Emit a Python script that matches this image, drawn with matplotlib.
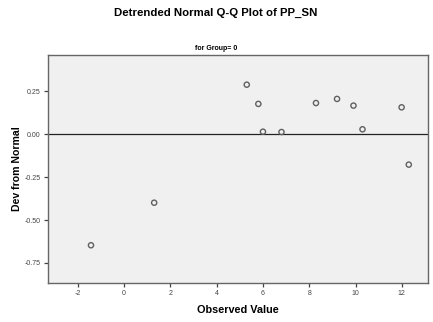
import matplotlib
matplotlib.use("Agg")
import matplotlib.pyplot as plt

observed = [-1.43, 1.30, 5.30, 5.80, 6.00, 6.80, 8.29, 9.20, 9.91, 10.30, 11.99, 12.30]
dev = [-0.647, -0.399, 0.289, 0.177, 0.015, 0.013, 0.182, 0.206, 0.167, 0.029, 0.157, -0.177]
xticks = [-2, 0, 2, 4, 6, 8, 10, 12]
yticks = [0.25, 0.00, -0.25, -0.50, -0.75]
ytick_labels = ["0.25", "0.00", "-0.25", "-0.50", "-0.75"]

plt.rcParams['font.family'] = ['Liberation Sans', 'DejaVu Sans']
fig = plt.figure(figsize=(4.33, 3.22), dpi=100)
W, H = 433, 322
l, r, t, b = 47.7, 428, 55, 283
ax = fig.add_axes([l / W, 1 - b / H, (r - l) / W, (b - t) / H])
ax.set_facecolor('#f0f0f0')
ax.scatter(observed, dev, s=14, facecolors='none', edgecolors='#606060', linewidths=1.0, zorder=3)
ax.axhline(0, color='#222222', lw=0.9, zorder=2)
ax.set_xlim(-3.3, 13.13)
ax.set_ylim(-0.867, 0.462)
ax.set_xticks(xticks)
ax.set_xticklabels([str(v) for v in xticks])
ax.set_yticks(yticks)
ax.set_yticklabels(ytick_labels)
ax.tick_params(axis='both', direction='out', length=3, width=0.9, colors='#444444', labelsize=5, pad=2)
for s in ax.spines.values():
    s.set_color('#666666')
    s.set_linewidth(1.0)
ax.set_xlabel('Observed Value', fontsize=7.8, fontweight='bold', labelpad=6)
ax.set_ylabel('Dev from Normal', fontsize=7.6, fontweight='bold', labelpad=2)
fig.text(216 / W, 1 - 13 / H, 'Detrended Normal Q-Q Plot of PP_SN', ha='center', va='center', fontsize=8.2, fontweight='bold')
fig.text(216 / W, 1 - 49 / H, 'for Group= 0', ha='center', va='center', fontsize=5, fontweight='bold')
fig.savefig('out.png', dpi=100, facecolor='white')
